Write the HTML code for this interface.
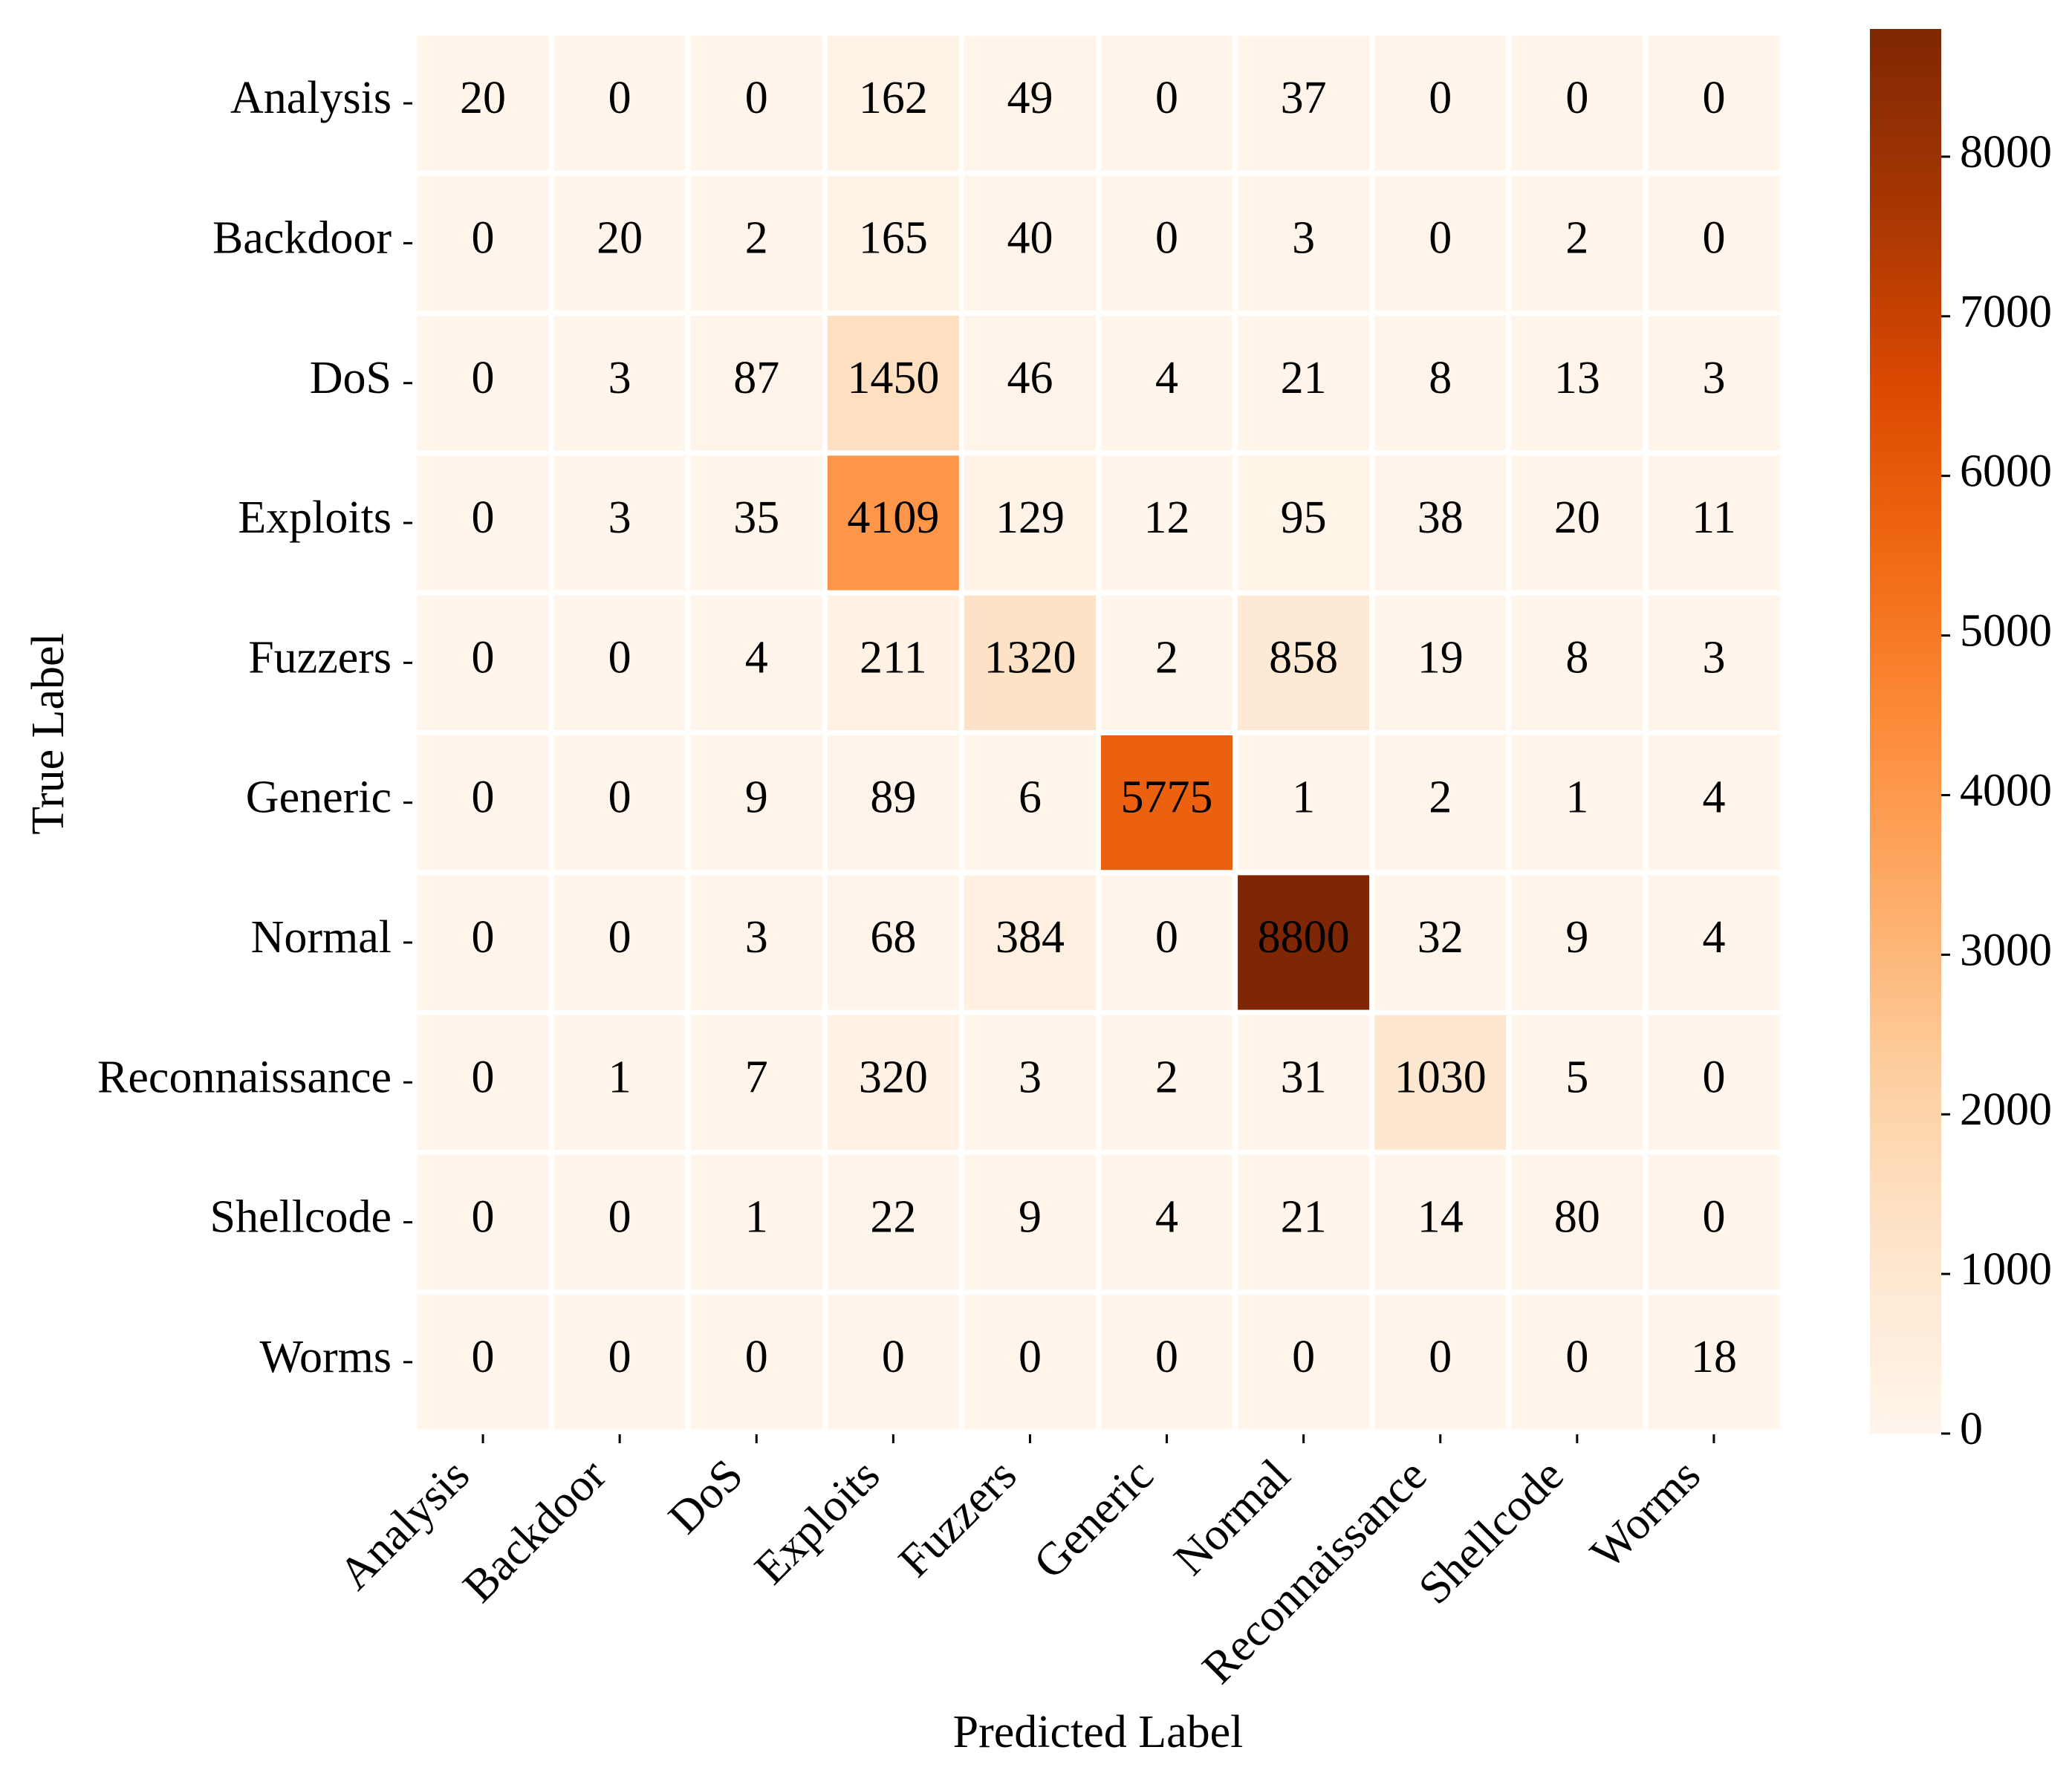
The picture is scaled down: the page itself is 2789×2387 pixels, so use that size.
<!DOCTYPE html>
<html><head><meta charset="utf-8"><style>
html,body{margin:0;padding:0;background:#fff}
svg{display:block;font-family:"Liberation Serif","Times New Roman",serif}
</style></head><body>
<svg id="chart" width="2789" height="2387" viewBox="0 0 2789 2387" xmlns="http://www.w3.org/2000/svg">
<defs>
<linearGradient id="cbgrad" x1="0" y1="1" x2="0" y2="0">
<stop offset="0" stop-color="#fff5eb"/><stop offset="0.125" stop-color="#fee6ce"/><stop offset="0.25" stop-color="#fdd0a2"/><stop offset="0.375" stop-color="#fdae6b"/><stop offset="0.5" stop-color="#fd8d3c"/><stop offset="0.625" stop-color="#f16913"/><stop offset="0.75" stop-color="#d94801"/><stop offset="0.875" stop-color="#a63603"/><stop offset="1" stop-color="#7f2704"/>
</linearGradient>
</defs>
<g id="cells"></g>
<g id="xticks"></g>
<g id="yticks"></g>
<text x="0" y="0" transform="translate(85,988) rotate(-90)" text-anchor="middle" font-size="62">True Label</text>
<text x="1478" y="2352" text-anchor="middle" font-size="62">Predicted Label</text>
<rect x="2517" y="39" width="96" height="1891" fill="url(#cbgrad)"/>
<g id="cbticks"></g>
</svg>
<script>
const categories = ["Analysis","Backdoor","DoS","Exploits","Fuzzers","Generic","Normal","Reconnaissance","Shellcode","Worms"];
const rowAnalysis = [20,0,0,162,49,0,37,0,0,0];
const rowBackdoor = [0,20,2,165,40,0,3,0,2,0];
const rowDoS = [0,3,87,1450,46,4,21,8,13,3];
const rowExploits = [0,3,35,4109,129,12,95,38,20,11];
const rowFuzzers = [0,0,4,211,1320,2,858,19,8,3];
const rowGeneric = [0,0,9,89,6,5775,1,2,1,4];
const rowNormal = [0,0,3,68,384,0,8800,32,9,4];
const rowRecon = [0,1,7,320,3,2,31,1030,5,0];
const rowShellcode = [0,0,1,22,9,4,21,14,80,0];
const rowWorms = [0,0,0,0,0,0,0,0,0,18];
const colorbarTicks = [0,1000,2000,3000,4000,5000,6000,7000,8000];
const vmax = 8800;

const matrix = [rowAnalysis,rowBackdoor,rowDoS,rowExploits,rowFuzzers,rowGeneric,rowNormal,rowRecon,rowShellcode,rowWorms];
const NS = "http://www.w3.org/2000/svg";
const L = 558, R = 2399, T = 45, B = 1928;
const n = categories.length;
const cw = (R - L) / n, ch = (B - T) / n;
const xPos = i => L + i * cw;
const yPos = i => T + i * ch;
const cbTop = 39, cbBot = 1930;
const cbY = v => cbBot - (v / vmax) * (cbBot - cbTop);
const stops = [[255,245,235],[254,230,206],[253,208,162],[253,174,107],[253,141,60],[241,105,19],[217,72,1],[166,54,3],[127,39,4]];
function color(v){
  let t = Math.max(0, Math.min(1, v / vmax)) * (stops.length - 1);
  let i = Math.min(Math.floor(t), stops.length - 2), f = t - i;
  const c = stops[i].map((a, k) => Math.round(a + (stops[i+1][k] - a) * f));
  return `rgb(${c[0]},${c[1]},${c[2]})`;
}
function mk(tag, attrs, parent){
  const e = document.createElementNS(NS, tag);
  for (const k in attrs) e.setAttribute(k, attrs[k]);
  parent.appendChild(e);
  return e;
}
const gc = document.getElementById('cells');
matrix.forEach((row, r) => {
  row.forEach((v, c) => {
    const rect = mk('rect', {x: xPos(c), y: yPos(r), width: cw, height: ch, fill: color(v), stroke: '#fff', 'stroke-width': 7}, gc);
    
    
    const t = mk('text', {x: xPos(c) + cw/2, y: yPos(r) + ch/2 + 13, 'text-anchor': 'middle', 'font-size': 62, fill: '#000'}, gc);
    
    
    t.textContent = v;
  });
});
const gx = document.getElementById('xticks');
categories.forEach((name, i) => {
  const cx = xPos(i) + cw/2;
  const tk = mk('line', {x1: cx, x2: cx, y1: 1931, y2: 1943, stroke: '#000', 'stroke-width': 3}, gx);
  
  
  const t = mk('text', {x: 0, y: 0, transform: `translate(${cx - 15},${1990}) rotate(-45)`, 'text-anchor': 'end', 'font-size': 62}, gx);
  
  
  t.textContent = name;
});
const gy = document.getElementById('yticks');
categories.forEach((name, i) => {
  const cy = yPos(i) + ch/2;
  const tk = mk('line', {x1: 543, x2: 555, y1: cy, y2: cy, stroke: '#000', 'stroke-width': 3}, gy);
  
  
  const t = mk('text', {x: 527, y: cy + 13, 'text-anchor': 'end', 'font-size': 62}, gy);
  
  
  t.textContent = name;
});
const gcb = document.getElementById('cbticks');
colorbarTicks.forEach(v => {
  const y = cbY(v);
  const tk = mk('line', {x1: 2613, x2: 2625, y1: y, y2: y, stroke: '#000', 'stroke-width': 3}, gcb);
  
  
  const t = mk('text', {x: 2638, y: y + 14, 'font-size': 62}, gcb);
  
  
  t.textContent = v;
});
</script>
</body></html>
